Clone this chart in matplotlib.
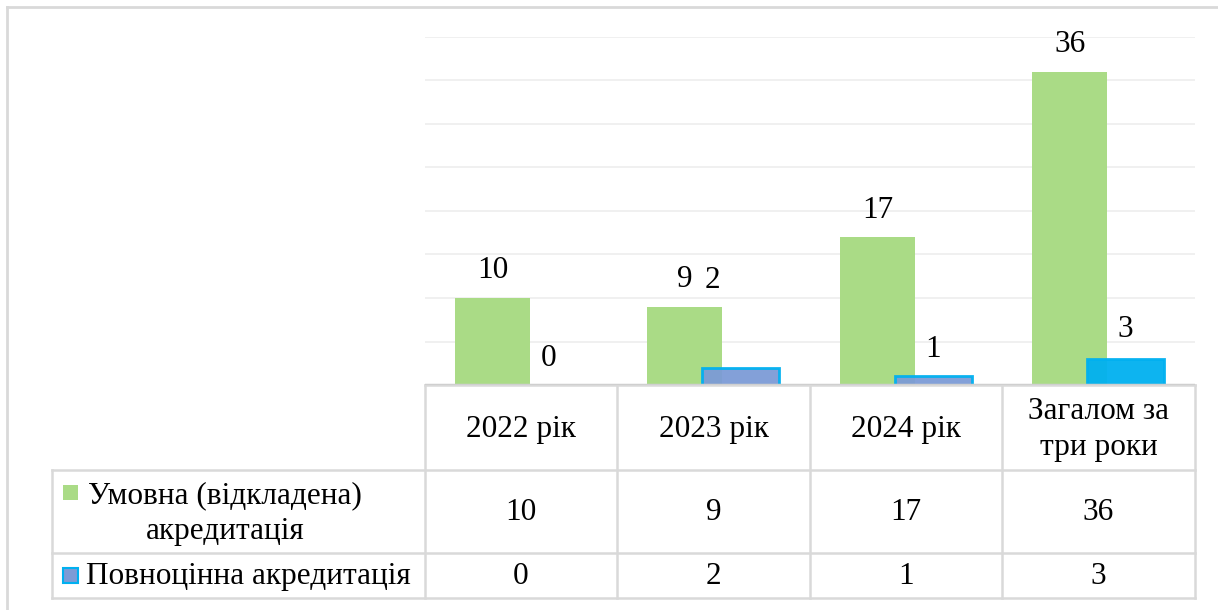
import numpy as np
import matplotlib.pyplot as plt
from matplotlib.patches import Rectangle

# data
categories = ["2022 рік", "2023 рік", "2024 рік", "Загалом за\nтри роки"]
conditional = [10, 9, 17, 36]
full = [0, 2, 1, 3]
series_names = ["Умовна (відкладена)\nакредитація", "Повноцінна акредитація"]

plt.rcParams['font.family'] = ['Liberation Serif', 'DejaVu Serif']

W, H = 1218, 610
FS = 22.5
fig = plt.figure(figsize=(W / 100, H / 100), dpi=100)

# helper to convert pixel box to figure fraction
def px_axes(x0, y0, x1, y1):
    return [x0 / W, 1 - y1 / H, (x1 - x0) / W, (y1 - y0) / H]

green = '#AADB86'
blue_fill = '#7C9BD6'
cyan = '#00B0F0'
grid_c = '#EFEFEF'
line_c = '#D9D9D9'

# overlay axes for the table / frame (pixel coords)
bg = fig.add_axes([0, 0, 1, 1])
bg.set_xlim(0, W)
bg.set_ylim(H, 0)
bg.axis('off')

# plot area
ax = fig.add_axes(px_axes(425, 37, 1195, 385))
x = np.arange(len(categories))
ax.set_xlim(-0.5, len(categories) - 0.5)
ax.set_ylim(0, 40)
for v in np.arange(5, 41, 5):
    ax.axhline(v, color=grid_c, lw=1.3, zorder=0)
ax.axhline(0, color='#CFCFCF', lw=2.5, zorder=3)

g_bars = ax.bar(x - 0.15, conditional, width=0.39, color=green, zorder=1)
b_face = [blue_fill, blue_fill, blue_fill, cyan]
b_bars = ax.bar(x + 0.14, full, width=0.40, color=b_face, edgecolor=cyan,
                linewidth=2, zorder=2, alpha=0.95)
for b, v in zip(b_bars, full):
    if v == 0:
        b.set_linewidth(0)

for a in ['top', 'right', 'left', 'bottom']:
    ax.spines[a].set_visible(False)
ax.set_xticks([])
ax.set_yticks([])

# value labels (offsets in px)
blue_dx = [0, -28, 0, 0]
blue_dy = [27, 87, 27, 29]
for b, v in zip(g_bars, conditional):
    ax.annotate(str(v), (b.get_x() + b.get_width() / 2, v), xytext=(0, 27 * 0.72),
                textcoords='offset points', ha='center', va='center', fontsize=FS)
for b, v, dx, dy in zip(b_bars, full, blue_dx, blue_dy):
    ax.annotate(str(v), (b.get_x() + b.get_width() / 2, v), xytext=(dx * 0.72, dy * 0.72),
                textcoords='offset points', ha='center', va='center', fontsize=FS)

# outer frame
bg.plot([7, 7], [7, H], color=line_c, lw=2)
bg.plot([7, W], [7, 7], color=line_c, lw=2)

# data table
col_edges = [425, 617, 810, 1002, 1195]
row_edges = [385, 470, 553, 598]
lw = 1.8
for xe in col_edges:
    bg.plot([xe, xe], [row_edges[0], row_edges[-1]], color=line_c, lw=lw)
bg.plot([52, 52], [row_edges[1], row_edges[-1]], color=line_c, lw=lw)
bg.plot([425, 1195], [row_edges[0], row_edges[0]], color=line_c, lw=lw)
for ye in row_edges[1:]:
    bg.plot([52, 1195], [ye, ye], color=line_c, lw=lw)

for i, c in enumerate(categories):
    cx = (col_edges[i] + col_edges[i + 1]) / 2
    bg.text(cx, (row_edges[0] + row_edges[1]) / 2 + 2, c, ha='center', va='center',
            fontsize=FS, linespacing=1.3)
    bg.text(cx, (row_edges[1] + row_edges[2]) / 2 + 1, str(conditional[i]), ha='center',
            va='center', fontsize=FS)
    bg.text(cx, (row_edges[2] + row_edges[3]) / 2 + 1, str(full[i]), ha='center',
            va='center', fontsize=FS)

# legend keys + series names
bg.add_patch(Rectangle((63, 485), 15, 15, facecolor=green, edgecolor='none'))
bg.add_patch(Rectangle((63, 568), 15, 15, facecolor=blue_fill, edgecolor=cyan, lw=1.5))
bg.text(225, (row_edges[1] + row_edges[2]) / 2 + 2, series_names[0], ha='center',
        va='center', fontsize=FS, linespacing=1.28)
bg.text(86, (row_edges[2] + row_edges[3]) / 2 + 1, series_names[1], ha='left',
        va='center', fontsize=FS)

fig.savefig('out.png', dpi=100)
